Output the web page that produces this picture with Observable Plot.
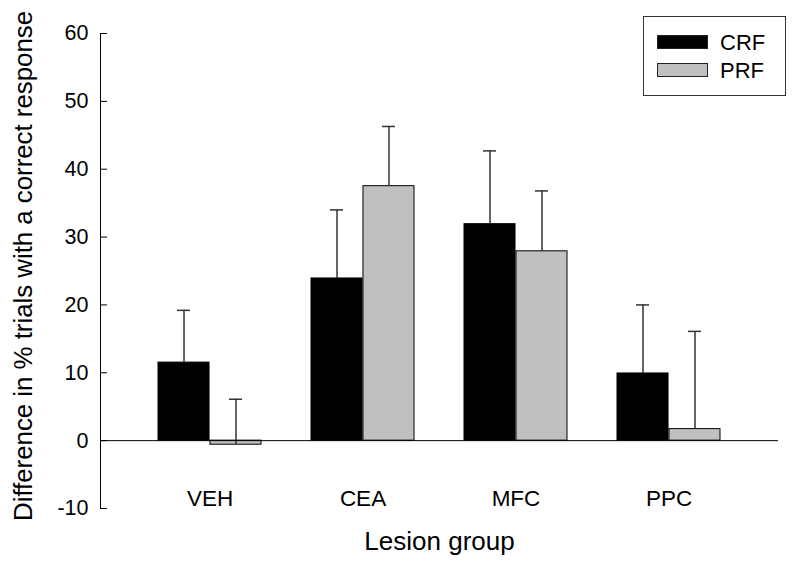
<!DOCTYPE html>
<html>
<head>
<meta charset="utf-8">
<script src="https://cdn.jsdelivr.net/npm/d3@7"></script>
<script src="https://cdn.jsdelivr.net/npm/@observablehq/plot@0.6"></script>
<style>
  html, body { margin: 0; padding: 0; background: #fff; }
  #wrap { position: relative; width: 800px; height: 563px; font-family: "Liberation Sans", Arial, sans-serif; }
  #legend { position: absolute; left: 643px; top: 16px; width: 143px; height: 80px; box-sizing: border-box; border: 1px solid #333; background: #fff; }
  .sw { position: absolute; left: 13px; width: 51px; height: 14px; box-sizing: border-box; border: 1px solid #222; }
  .lt { position: absolute; left: 76px; font-size: 22px; line-height: 22px; color: #000; }
</style>
</head>
<body>
<div id="wrap"></div>
<script>
const groups = ["VEH", "CEA", "MFC", "PPC"];
const series = ["CRF", "PRF"];
const seriesColors = ["#000000", "#c0c0c0"];
const crfValues = [11.5, 23.9, 31.9, 9.9];
const crfErrors = [7.7, 10.1, 10.8, 10.1];
const prfValues = [-0.6, 37.5, 27.9, 1.7];
const prfErrors = [6.7, 8.8, 8.9, 14.4];
const yTicks = [-10, 0, 10, 20, 30, 40, 50, 60];
const yLabel = "Difference in % trials with a correct response";
const xLabel = "Lesion group";

const crf = groups.map((g, i) => ({group: g, series: "CRF", value: crfValues[i], err: crfErrors[i]}));
const prf = groups.map((g, i) => ({group: g, series: "PRF", value: prfValues[i], err: prfErrors[i]}));

const W = 800, H = 563, mL = 100, mR = 22, mT = 33, mB = 55;
const xOpts = {type: "band", domain: groups, range: [mL, W - mR], paddingInner: 0.325, paddingOuter: 0.364};
const bw = Plot.scale({x: xOpts}).bandwidth;
const capHalf = 7;
const font = "'Liberation Sans', Arial, sans-serif";

const chart = Plot.plot({
  width: W, height: H,
  marginLeft: mL, marginRight: mR, marginTop: mT, marginBottom: mB,
  style: {fontFamily: font, fontSize: "21px", background: "white", color: "black"},
  x: {domain: groups, paddingInner: 0.325, paddingOuter: 0.364, axis: null},
  y: {domain: [-10, 60]},
  marks: [
    Plot.barY(crf, {x: "group", y: "value", fill: seriesColors[0], stroke: "#000", strokeWidth: 1, insetRight: bw / 2}),
    Plot.barY(prf, {x: "group", y: "value", fill: seriesColors[1], stroke: "#000", strokeWidth: 1, insetLeft: bw / 2}),
    Plot.ruleX(crf, {x: "group", y1: "value", y2: d => d.value + d.err, dx: -bw / 4, stroke: "#333", strokeWidth: 1.5}),
    Plot.ruleX(prf, {x: "group", y1: "value", y2: d => d.value + d.err, dx: bw / 4, stroke: "#333", strokeWidth: 1.5}),
    Plot.tickY(crf, {x: "group", y: d => d.value + d.err, dx: -bw / 4, inset: bw / 2 - capHalf, stroke: "#333", strokeWidth: 1.5}),
    Plot.tickY(prf, {x: "group", y: d => d.value + d.err, dx: bw / 4, inset: bw / 2 - capHalf, stroke: "#333", strokeWidth: 1.5}),
    Plot.ruleY([0], {stroke: "#000", strokeWidth: 1}),
    Plot.frame({anchor: "left", stroke: "#000", strokeWidth: 1}),
    Plot.axisY({ticks: yTicks, tickSize: 7, tickPadding: 12, dx: 7, label: null, tickFormat: d => String(d), fontSize: 21.5, stroke: "#000"}),
    Plot.text(groups, {x: d => d, text: d => d, frameAnchor: "bottom", lineAnchor: "bottom", dy: -3, fontSize: 22.5}),
    Plot.text([xLabel], {text: d => d, frameAnchor: "bottom", lineAnchor: "bottom", dy: 41, fontSize: 26}),
    Plot.text([yLabel], {text: d => d, frameAnchor: "left", textAnchor: "middle", lineAnchor: "bottom", rotate: -90, dx: -69, dy: -5, fontSize: 25.8})
  ]
});

const wrap = document.getElementById("wrap");
wrap.appendChild(chart);

const legend = document.createElement("div");
legend.id = "legend";
series.forEach((s, i) => {
  const sw = document.createElement("div");
  sw.className = "sw";
  sw.style.top = (18 + i * 28) + "px";
  sw.style.background = seriesColors[i];
  legend.appendChild(sw);
  const t = document.createElement("div");
  t.className = "lt";
  t.style.top = (15 + i * 28) + "px";
  t.textContent = s;
  legend.appendChild(t);
});
wrap.appendChild(legend);
</script>
</body>
</html>
